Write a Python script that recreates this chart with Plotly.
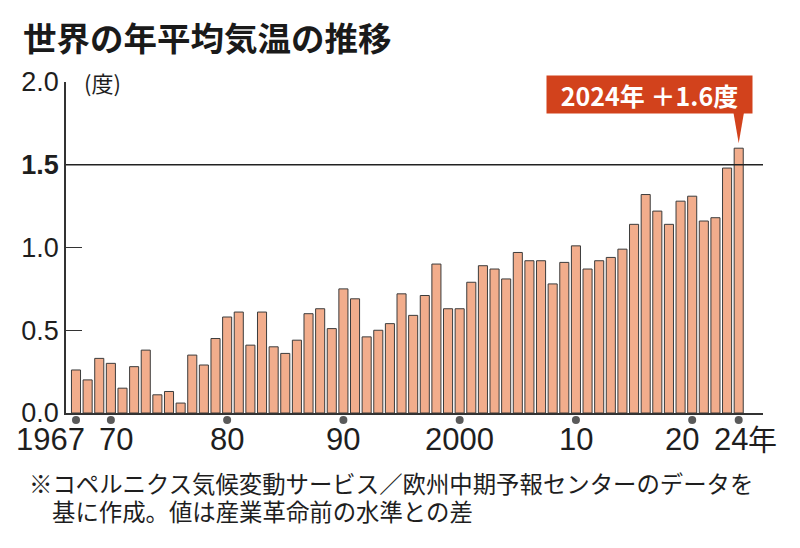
import plotly.graph_objects as go

# ---------------- data ----------------
years = list(range(1967, 2025))
anomaly = [0.26, 0.20, 0.33, 0.30, 0.15, 0.28, 0.38, 0.11, 0.13, 0.06,
           0.35, 0.29, 0.45, 0.58, 0.61, 0.41, 0.61, 0.40, 0.36, 0.44,
           0.60, 0.63, 0.51, 0.75, 0.69, 0.46, 0.50, 0.54, 0.72, 0.59,
           0.71, 0.90, 0.63, 0.63, 0.79, 0.89, 0.87, 0.81, 0.97, 0.92,
           0.92, 0.78, 0.91, 1.01, 0.87, 0.92, 0.94, 0.99, 1.14, 1.32,
           1.22, 1.14, 1.28, 1.31, 1.16, 1.18, 1.48, 1.60]
dot_years = [1967, 1970, 1980, 1990, 2000, 2010, 2020, 2024]
xlabel_years = [1967, 1970, 1980, 1990, 2000, 2010, 2020, 2024]
xlabel_texts = ["1967", "70", "80", "90", "2000", "10", "20", "24"]
ytick_vals = [0.0, 0.5, 1.0, 1.5, 2.0]
ytick_texts = ["0.0", "0.5", "1.0", "<b>1.5</b>", "2.0"]
threshold = 1.5
title_text = "世界の年平均気温の推移"
unit_text = "(度)"
year_suffix = "年"
callout_text = "2024年 ＋1.6度"
note_lines = ["※コペルニクス気候変動サービス／欧州中期予報センターのデータを",
              "基に作成。値は産業革命前の水準との差"]

# ---------------- layout geometry ----------------
W, H = 800, 548
L, R, T, B = 66, 37, 82, 135
PW, PH = W - L - R, H - T - B
XR = [1966.14, 2026.09]
YR = [0.0, 2.0]
ppy = PH / (YR[1] - YR[0])          # px per unit on y


def px_x(px):
    return (px - L) / PW


def px_y(py):
    return 1 - (py - T) / PH


NUM_FONT = "Liberation Sans, Arial, sans-serif"
JP_FONT = "Noto Sans CJK JP, sans-serif"
TXT = "#1e1e1e"
BAR = "#f2ad8c"
RED = "#d2421c"

fig = go.Figure()

fig.add_trace(go.Bar(
    x=years, y=anomaly, width=0.78,
    marker=dict(color=BAR, line=dict(color="#3c3c3c", width=1)),
    hoverinfo="x+y", showlegend=False,
))

shapes = [
    dict(type="line", xref="paper", yref="y", x0=0, x1=1, y0=threshold, y1=threshold,
         line=dict(color="#222222", width=1.5), layer="above"),
]
# year marker dots under the axis
for yr in dot_years:
    shapes.append(dict(type="circle", xref="x", yref="paper", xsizemode="pixel",
                       ysizemode="pixel", xanchor=yr, yanchor=0, x0=-4, x1=4, y0=-11, y1=-3,
                       fillcolor="#5a5a5a", line=dict(width=0)))
# callout pointer
tip_x = years[-1]
tip_y = anomaly[-1] + 5 / ppy
base_y = anomaly[-1] + 37 / ppy
half = 5.5 / (PW / (XR[1] - XR[0]))
shapes.append(dict(
    type="path", xref="x", yref="y",
    path=f"M {tip_x - half},{base_y} L {tip_x + half},{base_y} L {tip_x},{tip_y} Z",
    fillcolor=RED, line=dict(width=0), layer="above"))

annotations = []
XFS = 31
shifts = {1967: 11, 1970: 5, 2020: -10}
for yr, t in zip(xlabel_years, xlabel_texts):
    if yr == 1967:
        annotations.append(dict(x=yr, y=0, xref="x", yref="paper", text=t, showarrow=False,
                                xanchor="right", yanchor="middle", xshift=shifts[yr], yshift=-26,
                                font=dict(family=NUM_FONT, size=XFS, color=TXT)))
    elif yr == 2024:
        annotations.append(dict(x=yr, y=0, xref="x", yref="paper", text=t, showarrow=False,
                                xanchor="left", yanchor="middle", xshift=-27, yshift=-26,
                                font=dict(family=NUM_FONT, size=XFS, color=TXT)))
        annotations.append(dict(x=yr, y=0, xref="x", yref="paper", text=year_suffix,
                                showarrow=False, xanchor="left", yanchor="middle",
                                xshift=7, yshift=-25,
                                font=dict(family=JP_FONT, size=29, color=TXT)))
    else:
        annotations.append(dict(x=yr, y=0, xref="x", yref="paper", text=t, showarrow=False,
                                xanchor="center", yanchor="middle", xshift=shifts.get(yr, 0),
                                yshift=-26, font=dict(family=NUM_FONT, size=XFS, color=TXT)))

# unit label
annotations.append(dict(x=px_x(82), y=1, xref="paper", yref="paper", text=unit_text,
                        showarrow=False, xanchor="left", yanchor="middle",
                        font=dict(family=JP_FONT, size=22, color=TXT)))
# callout box
annotations.append(dict(x=years[-1], y=anomaly[-1], xref="x", yref="y", text=f"<b>{callout_text}</b>",
                        showarrow=False, xanchor="center", yanchor="middle",
                        xshift=-89.5, yshift=54, width=199, height=31, borderpad=3,
                        bgcolor=RED, font=dict(family=JP_FONT, size=25, color="white")))
# footnote (two lines)
annotations.append(dict(x=px_x(27), y=px_y(483), xref="paper", yref="paper",
                        text=note_lines[0], showarrow=False, xanchor="left", yanchor="middle",
                        font=dict(family=JP_FONT, size=23.4, color=TXT)))
annotations.append(dict(x=px_x(50), y=px_y(511), xref="paper", yref="paper",
                        text=note_lines[1], showarrow=False, xanchor="left", yanchor="middle",
                        font=dict(family=JP_FONT, size=23.4, color=TXT)))

fig.update_layout(
    width=W, height=H,
    margin=dict(l=L, r=R, t=T, b=B, pad=0),
    paper_bgcolor="white", plot_bgcolor="white",
    title=dict(text=f"<b>{title_text}</b>", x=23 / W, xanchor="left", xref="container",
               y=1 - 39 / H, yanchor="middle", yref="container",
               font=dict(family=JP_FONT, size=33.5, color="#1a1a1a")),
    bargap=0.22,
    xaxis=dict(range=XR, showticklabels=False, ticks="", showgrid=False, zeroline=False,
               showline=True, linecolor="#333333", linewidth=1.5, fixedrange=True),
    yaxis=dict(range=YR, tickvals=ytick_vals, ticktext=ytick_texts, ticks="inside",
               ticklen=16, tickwidth=1.3, tickcolor="#333333", showgrid=False, zeroline=False,
               showline=True, linecolor="#333333", linewidth=1.5, fixedrange=True,
               tickfont=dict(family=NUM_FONT, size=27, color=TXT), ticklabelstandoff=0),
    shapes=shapes, annotations=annotations,
)

fig.write_html("out.html", config={"displayModeBar": False},
               post_script="document.body.style.margin='0';document.body.style.overflow='hidden';")
